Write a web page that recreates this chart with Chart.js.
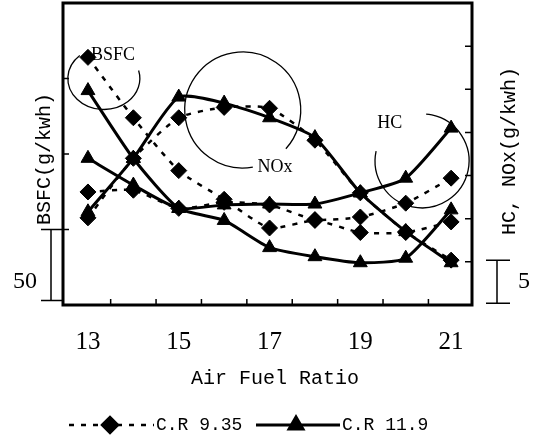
<!DOCTYPE html>
<html>
<head>
<meta charset="utf-8">
<script src="https://cdn.jsdelivr.net/npm/chart.js@4.4.1/dist/chart.umd.min.js"></script>
<style>
  html, body { margin: 0; padding: 0; background: #fff; }
  canvas { display: block; }
</style>
</head>
<body>
<canvas id="chart" width="542" height="442"></canvas>
<script>
// values
const airFuelRatio = [13, 14, 15, 16, 17, 18, 19, 20, 21];
const bsfcCR935 = [364, 324, 289, 270, 251, 256, 248, 248, 255];
const bsfcCR119 = [342, 297, 264, 256, 238, 232, 228, 231, 263];
const noxCR935 = [10.1, 17.0, 21.7, 22.9, 22.8, 19.1, 13.0, 8.5, 5.2];
const noxCR119 = [10.8, 17.0, 24.1, 23.4, 21.7, 19.4, 13.0, 8.5, 4.9];
const hcCR935 = [13.1, 13.3, 11.2, 11.9, 11.6, 9.9, 10.2, 11.8, 14.7];
const hcCR119 = [17.0, 13.9, 11.2, 11.6, 11.7, 11.7, 13.0, 14.7, 20.5];

// ticks
const xTickLabels = [13, 15, 17, 19, 21];
const xMinorTicks = [13.5, 14.5, 15.5, 16.5, 17.5, 18.5, 19.5, 20.5];
const bsfcTicks = [250, 300, 350];
const emissionTicks = [5, 10, 15, 20, 25, 30];

const black = "#000";

function makeSeries(label, values, axis, cr) {
  const dashed = cr === "9.35";
  return {
    label: label,
    data: airFuelRatio.map((x, i) => ({ x: x, y: values[i] })),
    yAxisID: axis,
    borderColor: black,
    backgroundColor: black,
    borderWidth: dashed ? 2.5 : 3,
    borderDash: dashed ? [5, 7] : [],
    pointStyle: dashed ? "rectRot" : "triangle",
    pointRadius: 8,
    pointBorderWidth: 1,
    tension: 0.2,
  };
}

const paperPlugin = {
  id: "paper",
  beforeDatasetsDraw(chart) {
    const { ctx, scales } = chart;
    const x = scales.x, yb = scales.y, ye = scales.y1;
    ctx.save();
    ctx.strokeStyle = black;
    ctx.lineWidth = 1.3;

    // BSFC arc
    ctx.beginPath();
    ctx.ellipse(x.getPixelForValue(13.35), yb.getPixelForValue(350), 36, 31, 0,
      228 * Math.PI / 180, -15 * Math.PI / 180, true);
    ctx.stroke();

    // NOx circle
    ctx.beginPath();
    ctx.ellipse(x.getPixelForValue(16.41), ye.getPixelForValue(22.6), 58, 58, 0,
      80 * Math.PI / 180, 402 * Math.PI / 180, false);
    ctx.stroke();

    // HC arc
    ctx.beginPath();
    ctx.ellipse(x.getPixelForValue(20.36), ye.getPixelForValue(16.7), 47, 47, 0,
      192 * Math.PI / 180, -85 * Math.PI / 180, true);
    ctx.stroke();

    ctx.fillStyle = black;
    ctx.font = "18px 'Liberation Serif'";
    ctx.textAlign = "center";
    ctx.textBaseline = "middle";
    ctx.fillText("BSFC", x.getPixelForValue(13.55), yb.getPixelForValue(365.6));
    ctx.fillText("NOx", x.getPixelForValue(17.12), ye.getPixelForValue(16.0));
    ctx.fillText("HC", x.getPixelForValue(19.65), ye.getPixelForValue(21.1));
    ctx.restore();
  },
  afterDraw(chart) {
    const { ctx, chartArea: a, scales } = chart;
    const x = scales.x, yb = scales.y, ye = scales.y1;
    ctx.save();
    ctx.strokeStyle = black;
    ctx.fillStyle = black;

    // frame
    ctx.lineWidth = 3;
    ctx.strokeRect(a.left, a.top, a.right - a.left, a.bottom - a.top);

    // inward tick marks
    ctx.lineWidth = 1.5;
    ctx.beginPath();
    xMinorTicks.forEach((v) => {
      const px = x.getPixelForValue(v);
      ctx.moveTo(px, a.bottom);
      ctx.lineTo(px, a.bottom - 6);
    });
    bsfcTicks.forEach((v) => {
      const py = yb.getPixelForValue(v);
      ctx.moveTo(a.left, py);
      ctx.lineTo(a.left + 6, py);
    });
    emissionTicks.forEach((v) => {
      const py = ye.getPixelForValue(v);
      ctx.moveTo(a.right, py);
      ctx.lineTo(a.right - 7, py);
    });
    ctx.stroke();

    // scale bars (50 g/kWh and 5 g/kWh)
    ctx.lineWidth = 1.5;
    const lt = yb.getPixelForValue(250), lb = yb.getPixelForValue(203);
    ctx.beginPath();
    ctx.moveTo(51, lt); ctx.lineTo(51, lb);
    ctx.moveTo(41, lt); ctx.lineTo(62, lt);
    ctx.moveTo(41, lb); ctx.lineTo(62, lb);
    const rt = ye.getPixelForValue(5.2), rb = ye.getPixelForValue(0.2);
    ctx.moveTo(497, rt); ctx.lineTo(497, rb);
    ctx.moveTo(486, rt); ctx.lineTo(510, rt);
    ctx.moveTo(486, rb); ctx.lineTo(510, rb);
    ctx.stroke();

    ctx.font = "24px 'Liberation Serif'";
    ctx.textAlign = "center";
    ctx.textBaseline = "middle";
    ctx.fillText("50", 25, 282);
    ctx.fillText("5", 524, 282);

    // axis titles, both reading bottom to top
    ctx.font = "20px 'Liberation Mono'";
    ctx.save();
    ctx.translate(45, 159);
    ctx.rotate(-Math.PI / 2);
    ctx.fillText("BSFC(g/kwh)", 0, 0);
    ctx.restore();
    ctx.save();
    ctx.translate(510, 151);
    ctx.rotate(-Math.PI / 2);
    ctx.fillText("HC, NOx(g/kwh)", 0, 0);
    ctx.restore();

    ctx.fillText("Air Fuel Ratio", 275, 379);

    // legend
    const items = [
      { ds: chart.data.datasets[0], from: 69, to: 154, mark: 110, textX: 156 },
      { ds: chart.data.datasets[1], from: 256, to: 340, mark: 296, textX: 342 },
    ];
    const ly = 425;
    ctx.font = "18px 'Liberation Mono'";
    ctx.textAlign = "left";
    items.forEach((it) => {
      ctx.lineWidth = it.ds.borderWidth;
      ctx.setLineDash(it.ds.borderDash);
      ctx.beginPath();
      ctx.moveTo(it.from, ly);
      ctx.lineTo(it.to, ly);
      ctx.stroke();
      ctx.setLineDash([]);
      Chart.helpers.drawPoint(ctx, {
        pointStyle: it.ds.pointStyle,
        radius: it.ds.pointRadius,
        rotation: 0,
        borderWidth: 1,
      }, it.mark, ly);
      ctx.fill();
      ctx.fillText(it.ds.label.replace(/^.*\| /, ""), it.textX, ly);
    });
    ctx.restore();
  },
};

new Chart(document.getElementById("chart"), {
  type: "line",
  data: {
    datasets: [
      makeSeries("BSFC | C.R 9.35", bsfcCR935, "y", "9.35"),
      makeSeries("BSFC | C.R 11.9", bsfcCR119, "y", "11.9"),
      makeSeries("NOx | C.R 9.35", noxCR935, "y1", "9.35"),
      makeSeries("NOx | C.R 11.9", noxCR119, "y1", "11.9"),
      makeSeries("HC | C.R 9.35", hcCR935, "y1", "9.35"),
      makeSeries("HC | C.R 11.9", hcCR119, "y1", "11.9"),
    ],
  },
  options: {
    responsive: false,
    animation: false,
    devicePixelRatio: 1,
    layout: { autoPadding: false, padding: { left: 63, right: 70, top: 3, bottom: 0 } },
    plugins: {
      legend: { display: false },
      tooltip: { enabled: false },
    },
    scales: {
      x: {
        type: "linear",
        position: "bottom",
        min: 12.45,
        max: 21.46,
        afterBuildTicks: (scale) => {
          scale.ticks = xTickLabels.map((v) => ({ value: v }));
        },
        afterFit: (scale) => {
          scale.height = 137;
        },
        grid: { display: false },
        border: { display: false },
        ticks: {
          color: black,
          padding: 14,
          maxRotation: 0,
          autoSkip: false,
          font: { family: "'Liberation Serif'", size: 25 },
        },
      },
      y: {
        type: "linear",
        position: "left",
        display: false,
        min: 200,
        max: 400,
      },
      y1: {
        type: "linear",
        position: "right",
        display: false,
        min: 0,
        max: 35,
      },
    },
  },
  plugins: [paperPlugin],
});
</script>
</body>
</html>
